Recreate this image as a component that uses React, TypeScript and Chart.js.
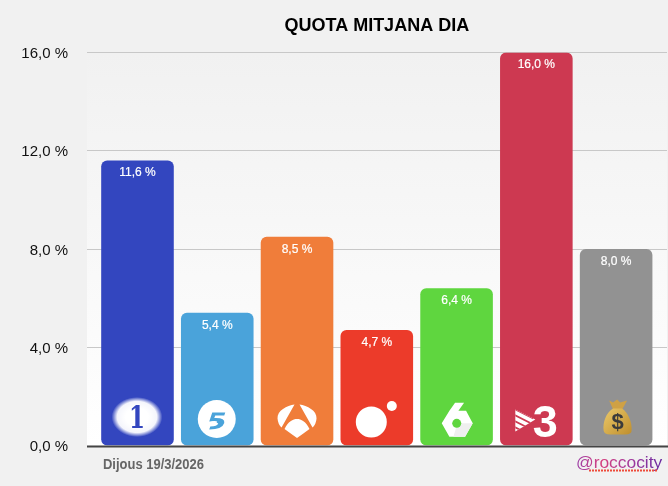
import { useEffect, useRef } from 'react';
import { Chart, registerables } from 'chart.js';

Chart.register(...registerables);

const channels = ['La 1', 'Telecinco', 'Antena 3', 'Cuatro', 'laSexta', '3CAT', 'Pagament'];
const shares = [11.6, 5.4, 8.5, 4.7, 6.4, 16.0, 8.0];
const barColors = ['#3346BF', '#4AA3DA', '#F07D3A', '#EC3B2A', '#5FD63F', '#CD3951', '#929292'];
const yTicks = [0, 4, 8, 12, 16];
const chartTitle = 'QUOTA MITJANA DIA';
const dateLabel = 'Dijous 19/3/2026';
const handle = '@roccocity';

const fontFamily = '"Liberation Sans", Arial, sans-serif';
const fmt = (v: number) => v.toFixed(1).replace('.', ',') + ' %';

type Ctx = CanvasRenderingContext2D;

// channel logos, drawn relative to bar centre (x) and baseline (y)
function logoOne(c: Ctx, x: number, y: number) {
  c.save();
  c.translate(x - 0.5, y - 28.5);
  c.scale(1.27, 1);
  const g = c.createRadialGradient(0, 0, 9, 0, 0, 20);
  g.addColorStop(0, 'rgba(255,255,255,1)');
  g.addColorStop(0.6, 'rgba(255,255,255,0.95)');
  g.addColorStop(1, 'rgba(255,255,255,0)');
  c.fillStyle = g;
  c.beginPath();
  c.arc(0, 0, 20, 0, Math.PI * 2);
  c.fill();
  c.restore();
  c.save();
  c.translate(x - 0.5, y - 26);
  c.scale(0.72, 1);
  c.fillStyle = '#3346BF';
  c.font = 'bold 32px "DejaVu Serif", serif';
  c.textAlign = 'center';
  c.textBaseline = 'middle';
  c.fillText('1', 0, 0);
  c.restore();
}

function logoFive(c: Ctx, x: number, y: number) {
  c.fillStyle = '#fff';
  c.beginPath();
  c.arc(x - 0.5, y - 26.5, 19, 0, Math.PI * 2);
  c.fill();
  // stylised 5: top bar, belly and eye cut-out
  c.fillStyle = '#4AA3DA';
  c.beginPath();
  c.moveTo(x - 5, y - 33);
  c.lineTo(x + 8, y - 33);
  c.lineTo(x + 7, y - 30);
  c.lineTo(x - 2, y - 30);
  c.lineTo(x - 3, y - 27.5);
  c.quadraticCurveTo(x + 8, y - 28, x + 7, y - 22.5);
  c.quadraticCurveTo(x + 5, y - 16, x - 8, y - 16);
  c.lineTo(x - 7, y - 19);
  c.quadraticCurveTo(x, y - 19, x + 1, y - 22);
  c.quadraticCurveTo(x - 3, y - 25, x - 8, y - 24);
  c.closePath();
  c.fill();
  c.fillStyle = '#fff';
  c.beginPath();
  c.ellipse(x - 3, y - 23.5, 3, 1, 0, 0, Math.PI * 2);
  c.fill();
}

function logoAntena(c: Ctx, x: number, y: number) {
  c.fillStyle = '#fff';
  c.beginPath();
  [-1, 1].forEach((s) => {
    c.moveTo(x + s * 2.5, y - 41);
    c.bezierCurveTo(x + s * 10, y - 40, x + s * 20, y - 35, x + s * 19.5, y - 27);
    c.quadraticCurveTo(x + s * 19, y - 21, x + s * 15.5, y - 18);
    c.closePath();
  });
  c.moveTo(x - 12.5, y - 16.5);
  c.bezierCurveTo(x - 9, y - 24, x - 4, y - 26.5, x, y - 26.5);
  c.bezierCurveTo(x + 4, y - 26.5, x + 9, y - 24, x + 12.5, y - 16.5);
  c.quadraticCurveTo(x + 5, y - 11, x, y - 7.5);
  c.quadraticCurveTo(x - 5, y - 11, x - 12.5, y - 16.5);
  c.closePath();
  c.fill();
}

function logoCuatro(c: Ctx, x: number, y: number) {
  c.fillStyle = '#fff';
  c.beginPath();
  c.arc(x - 5.5, y - 23.5, 15.5, 0, Math.PI * 2);
  c.fill();
  c.beginPath();
  c.arc(x + 15, y - 39.5, 5, 0, Math.PI * 2);
  c.fill();
}

function logoSexta(c: Ctx, x: number, y: number) {
  const ox = x - 36.5;
  const oy = y - 55.5;
  const p = (zx: number, zy: number): [number, number] => [ox + zx / 3 - 0, oy + zy / 3];
  const pts: [number, number][] = [[65, 100], [88, 62], [105, 38], [132, 38], [115, 62], [138, 62], [158, 100], [135, 140], [88, 140]];
  c.fillStyle = '#fff';
  c.beginPath();
  pts.forEach(([a, b], i) => (i ? c.lineTo(...p(a, b)) : c.moveTo(...p(a, b))));
  c.closePath();
  c.fill();
  c.fillStyle = '#EFEFEF';
  c.beginPath();
  c.moveTo(...p(112, 100));
  c.lineTo(...p(158, 100));
  c.lineTo(...p(135, 140));
  c.lineTo(...p(100, 140));
  c.closePath();
  c.fill();
  c.fillStyle = '#5FD63F';
  c.beginPath();
  c.arc(...p(110, 100), 4.5, 0, Math.PI * 2);
  c.fill();
}

function logoTres(c: Ctx, x: number, y: number) {
  c.fillStyle = '#fff';
  c.font = 'bold 45px ' + fontFamily;
  c.textAlign = 'center';
  c.textBaseline = 'alphabetic';
  c.fillText('3', x + 9, y - 9);
  c.save();
  c.beginPath();
  c.moveTo(x - 21, y - 36);
  c.lineTo(x - 1, y - 26);
  c.lineTo(x - 21, y - 14);
  c.closePath();
  c.clip();
  c.fillRect(x - 22, y - 37, 22, 24);
  c.strokeStyle = '#CD3951';
  c.lineWidth = 1.8;
  [-33, -27, -21, -15].forEach((d) => {
    c.beginPath();
    c.moveTo(x - 23, y + d - 4);
    c.lineTo(x - 3, y + d + 6);
    c.stroke();
  });
  c.restore();
}

function logoBag(c: Ctx, x: number, y: number) {
  const g = c.createLinearGradient(x - 14, y - 38, x + 14, y - 11);
  g.addColorStop(0, '#EDCB6C');
  g.addColorStop(1, '#C0902F');
  c.fillStyle = '#CFA145';
  c.beginPath();
  c.moveTo(x - 7, y - 45);
  c.lineTo(x - 3, y - 43);
  c.lineTo(x + 1, y - 46);
  c.lineTo(x + 4, y - 43);
  c.lineTo(x + 11, y - 45);
  c.lineTo(x + 6, y - 36);
  c.lineTo(x - 3, y - 36);
  c.closePath();
  c.fill();
  c.fillStyle = g;
  c.beginPath();
  c.moveTo(x - 3, y - 37);
  c.bezierCurveTo(x - 10, y - 33, x - 13.5, y - 23, x - 12.5, y - 15);
  c.quadraticCurveTo(x - 12, y - 11, x - 6, y - 11);
  c.lineTo(x + 9, y - 11);
  c.quadraticCurveTo(x + 16, y - 11, x + 15.5, y - 16);
  c.bezierCurveTo(x + 16, y - 23, x + 12, y - 33, x + 6, y - 37);
  c.closePath();
  c.fill();
  c.fillStyle = '#3B3B3B';
  c.font = 'bold 22px ' + fontFamily;
  c.textAlign = 'center';
  c.textBaseline = 'middle';
  c.fillText('$', x + 1.5, y - 23);
}

const logos = [logoOne, logoFive, logoAntena, logoCuatro, logoSexta, logoTres, logoBag];

const decorPlugin = {
  id: 'decor',
  beforeDraw(chart: Chart) {
    const c = chart.ctx;
    const y = chart.scales.y;
    const top = y.getPixelForValue(16);
    const bottom = y.getPixelForValue(0);
    c.save();
    c.fillStyle = '#F1F1F1';
    c.fillRect(0, 0, chart.width, chart.height);
    const g = c.createLinearGradient(0, top, 0, bottom);
    g.addColorStop(0, '#F1F1F1');
    g.addColorStop(1, '#FFFFFF');
    c.fillStyle = g;
    c.fillRect(87, top, 580, bottom - top);
    c.fillStyle = '#C8C8C8';
    yTicks.slice(1).forEach((t) => {
      c.fillRect(87, Math.floor(y.getPixelForValue(t)), 580, 1);
    });
    c.restore();
  },
  afterDatasetsDraw(chart: Chart) {
    const c = chart.ctx;
    const meta = chart.getDatasetMeta(0);
    const base = chart.scales.y.getPixelForValue(0);
    c.save();
    meta.data.forEach((bar: any, i: number) => {
      c.fillStyle = '#fff';
      c.strokeStyle = '#fff';
      c.lineWidth = 0.2;
      c.font = '12px ' + fontFamily;
      c.textAlign = 'center';
      c.textBaseline = 'middle';
      c.fillText(fmt(shares[i]), bar.x, bar.y + 12.5);
      c.strokeText(fmt(shares[i]), bar.x, bar.y + 12.5);
      logos[i](c, bar.x, base);
    });
    c.fillStyle = '#444';
    c.fillRect(87, base, 581, 2);

    c.textBaseline = 'middle';
    c.textAlign = 'left';
    c.fillStyle = '#666';
    c.font = 'bold 14px ' + fontFamily;
    c.save();
    c.translate(103, 465);
    c.scale(0.926, 1);
    c.fillText(dateLabel, 0, 0);
    c.restore();

    c.font = '17.4px ' + fontFamily;
    const g = c.createLinearGradient(576, 0, 662, 0);
    g.addColorStop(0, '#9A3FA8');
    g.addColorStop(0.3, '#D6407F');
    g.addColorStop(0.65, '#A03A9E');
    g.addColorStop(1, '#6A2BA0');
    c.fillStyle = g;
    c.fillText(handle, 576, 463);
    c.strokeStyle = '#EE4B3A';
    c.lineWidth = 2;
    c.setLineDash([2, 1]);
    c.beginPath();
    c.moveTo(589, 470.5);
    c.lineTo(658, 470.5);
    c.stroke();
    c.restore();
  },
};

export default function App() {
  const canvasRef = useRef<HTMLCanvasElement>(null);

  useEffect(() => {
    document.body.style.margin = '0';
    document.body.style.background = '#F1F1F1';
    if (!canvasRef.current) return;

    const chart = new Chart(canvasRef.current, {
      type: 'bar',
      data: {
        labels: channels,
        datasets: [{
          data: shares,
          backgroundColor: barColors,
          borderRadius: 6,
          borderSkipped: false,
          categoryPercentage: 1,
          barPercentage: 0.91,
        }],
      },
      options: {
        responsive: false,
        animation: false,
        layout: { padding: { right: 12, bottom: 40.5 } },
        plugins: {
          legend: { display: false },
          tooltip: { enabled: false },
          title: {
            display: true,
            text: chartTitle,
            fullSize: false,
            color: '#000',
            font: { family: fontFamily, size: 18, weight: 'bold' },
            padding: { top: 15, bottom: 15.9 },
          },
        },
        scales: {
          x: { display: false },
          y: {
            min: 0,
            max: 16,
            grid: { display: false, drawTicks: false },
            border: { display: false },
            afterFit: (axis: any) => { axis.width = 97.6; },
            ticks: {
              stepSize: 4,
              padding: 29.6,
              labelOffset: 1.5,
              color: '#111',
              font: { family: fontFamily, size: 15 },
              callback: (v: any) => fmt(Number(v)),
            },
          },
        },
      },
      plugins: [decorPlugin],
    });

    return () => chart.destroy();
  }, []);

  return <canvas ref={canvasRef} width={668} height={486} style={{ display: 'block' }} />;
}
